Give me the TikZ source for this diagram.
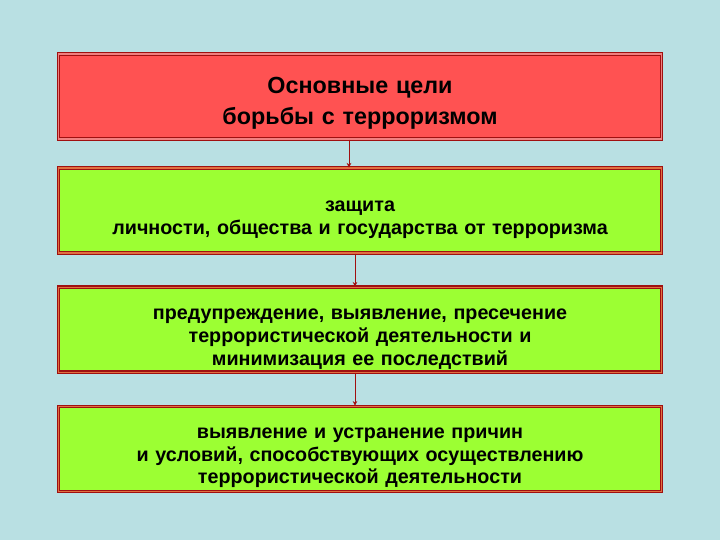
\documentclass[tikz,border=0pt]{standalone}
\usepackage{fontspec}
\setmainfont{Liberation Sans}
\usetikzlibrary{arrows.meta,positioning}
\definecolor{bgblue}{HTML}{B9E0E3}
\definecolor{goalred}{HTML}{FF5252}
\definecolor{taskgreen}{HTML}{9CFF33}
\definecolor{rimred}{HTML}{A01010}
\definecolor{rimpink}{HTML}{F08080}
\definecolor{rimorange}{HTML}{E07040}

\begin{document}
\begin{tikzpicture}[x=0.75pt,y=-0.75pt,
	goal/.style={draw=rimred,double=rimpink,double distance=0.9pt,line width=0.8pt,fill=goalred,
		minimum width=603*0.75pt,text width=590*0.75pt,align=center,
		minimum height=85*0.75pt,font=\bfseries\fontsize{17.5}{23}\selectfont,inner sep=0pt,
		execute at begin node={\rule{0pt}{22pt}}},
	task/.style={goal,fill=taskgreen,double=rimorange,font=\bfseries\fontsize{14.8}{17}\selectfont,
		execute at begin node={\rule{0pt}{22pt}}},
	link/.style={draw=rimred,line width=0.7pt,-{Stealth[length=3.5pt,width=3.5pt]}}]
\fill[bgblue] (0,0) rectangle (720,540);
\useasboundingbox (0,0) rectangle (720,540);
\node [goal] (aim) at (360,96.5) {Основные цели\\борьбы с терроризмом};
\node [task,below=28*0.75pt of aim] (protect) {защита\\личности, общества и государства от терроризма};
\node [task,below=33*0.75pt of protect] (prevent) {предупреждение, выявление, пресечение\\террористической деятельности и\\минимизация ее последствий};
\node [task,below=33*0.75pt of prevent] (causes) {выявление и устранение причин\\и условий, способствующих осуществлению\\террористической деятельности};
\draw [link] ([xshift=-11*0.75pt]aim.south) -- ([xshift=-11*0.75pt]protect.north);
\draw [link] ([xshift=-5*0.75pt]protect.south) -- ([xshift=-5*0.75pt]prevent.north);
\draw [link] ([xshift=-5*0.75pt]prevent.south) -- ([xshift=-5*0.75pt]causes.north);
\end{tikzpicture}
\end{document}
